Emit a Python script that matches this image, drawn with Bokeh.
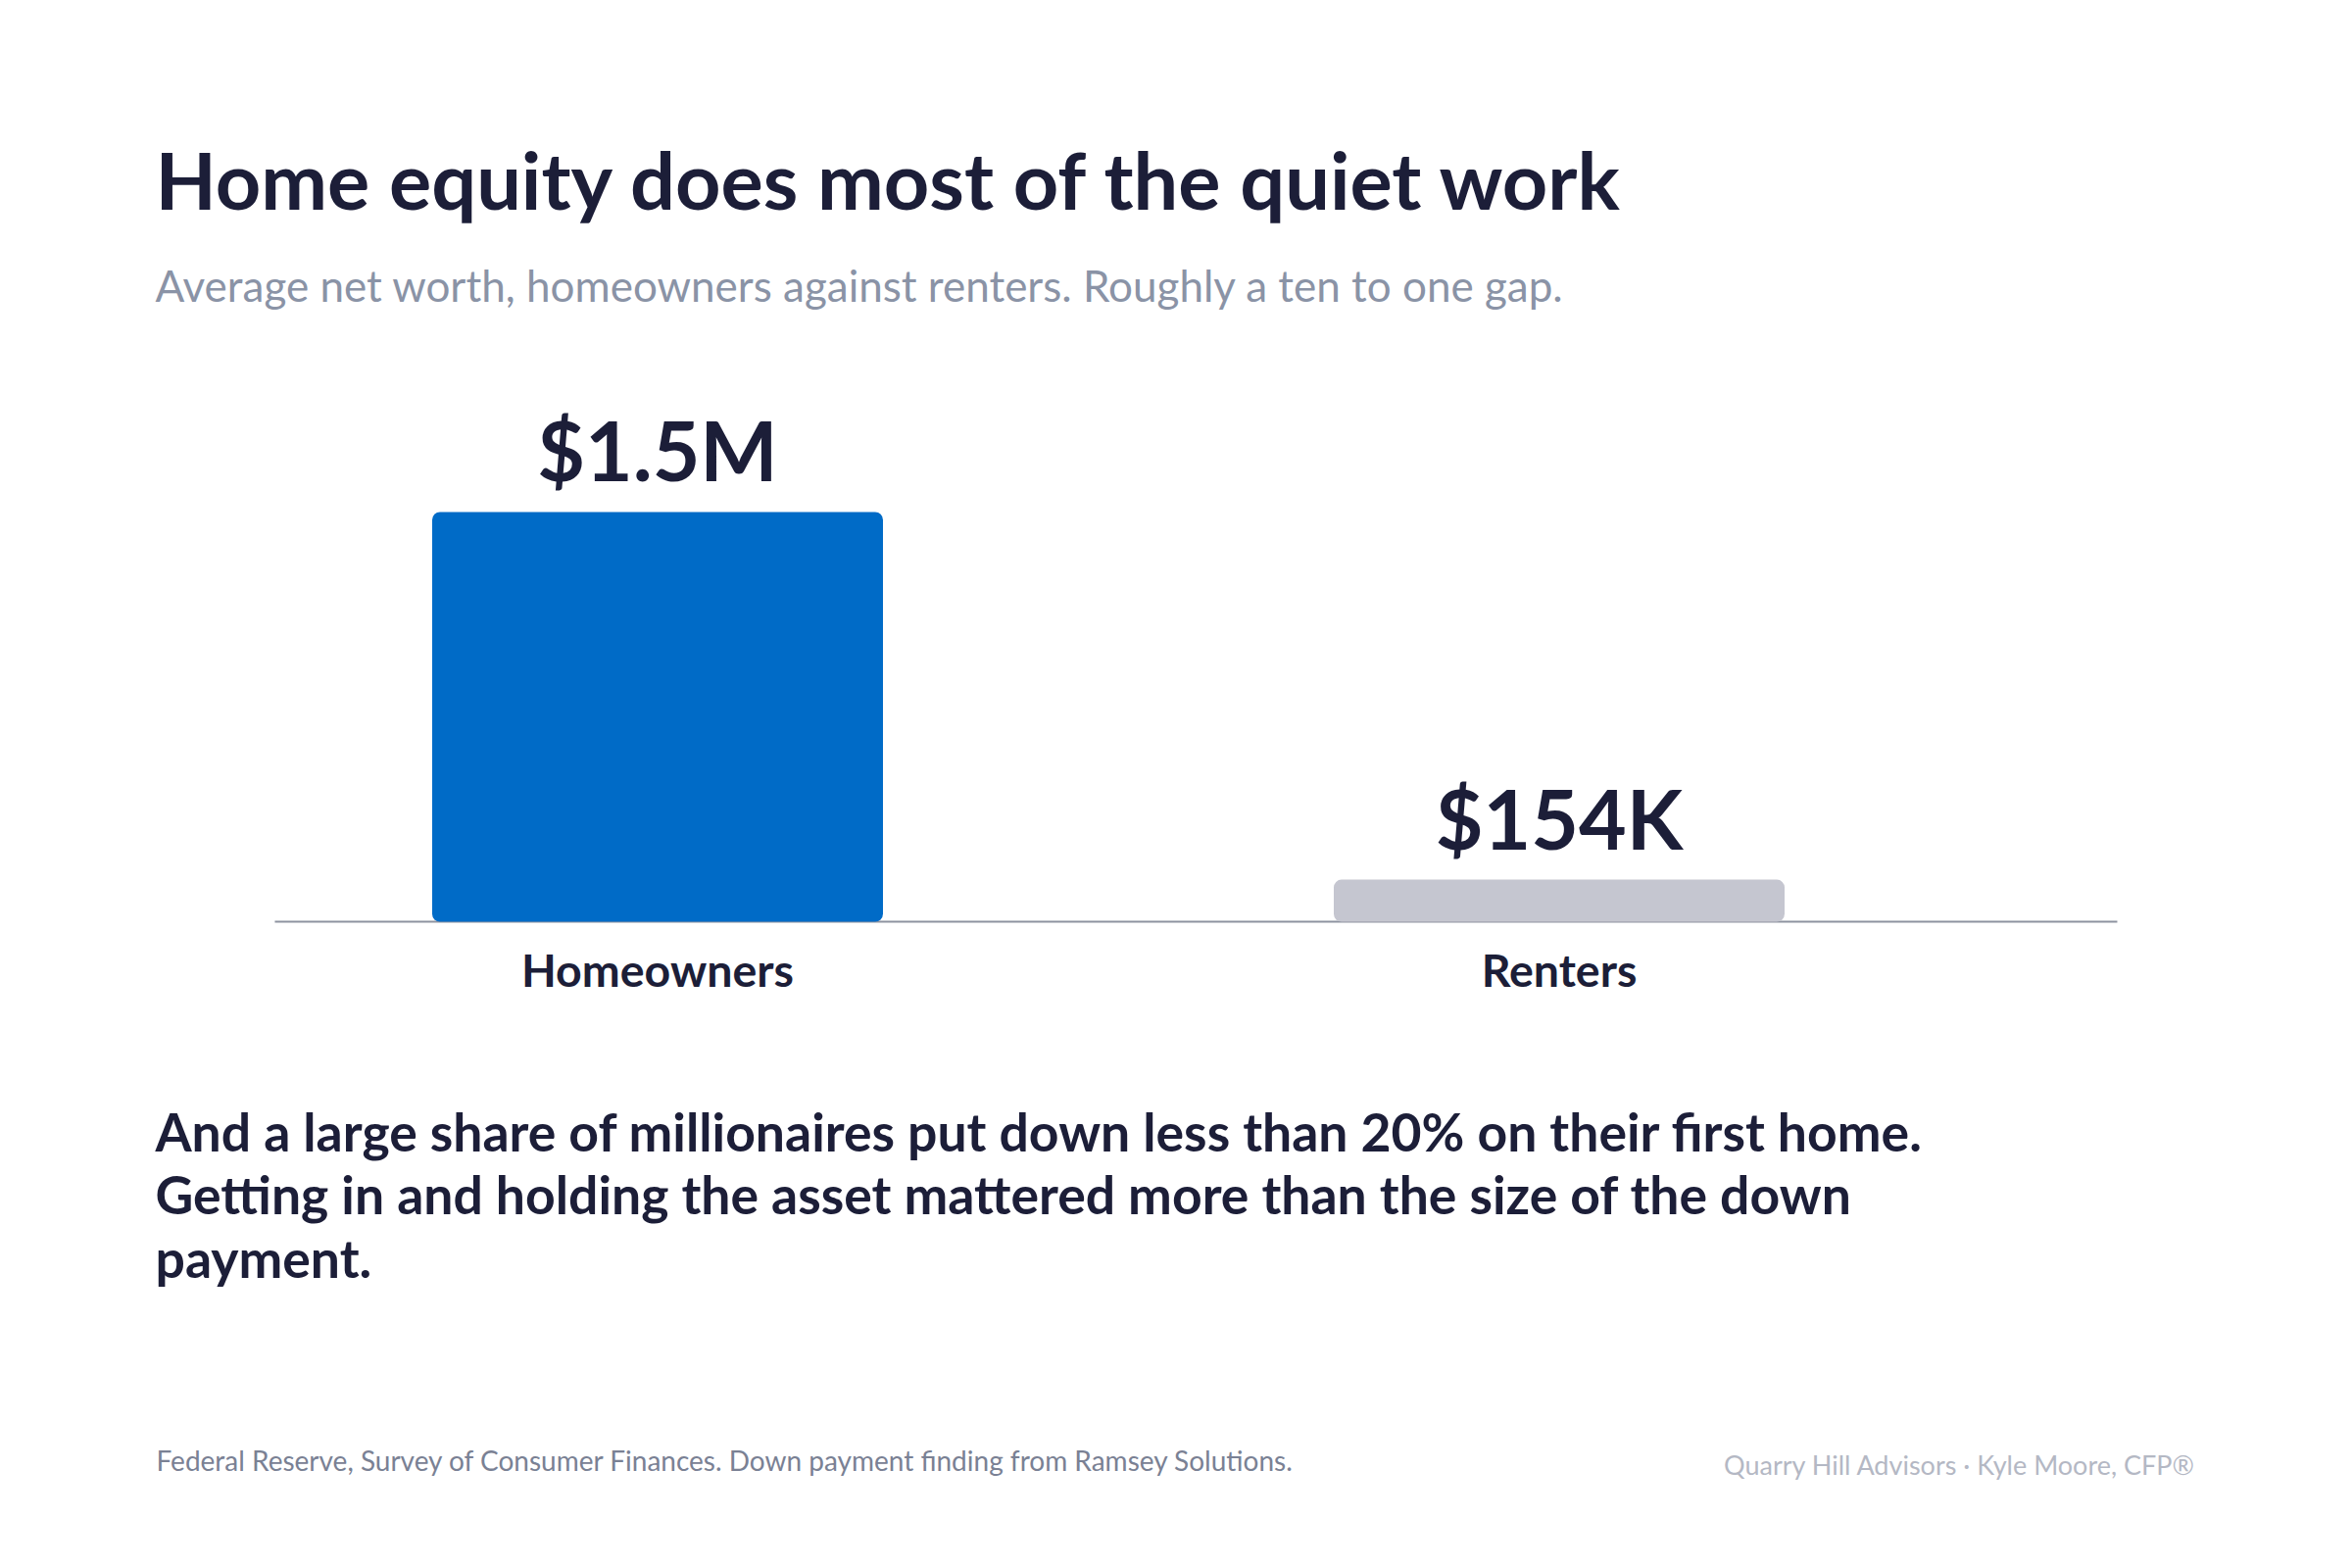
from bokeh.core.properties import value
from bokeh.embed import file_html
from bokeh.models import ColumnDataSource, Label, LabelSet, Range1d
from bokeh.plotting import figure
from bokeh.resources import INLINE

# data
categories = ["Homeowners", "Renters"]
net_worth = [1_500_000, 154_000]
value_labels = ["$1.5M", "$154K"]
bar_colors = ["#006bc7", "#c5c6d0"]

title_text = "Home equity does most of the quiet work"
subtitle_text = "Average net worth, homeowners against renters. Roughly a ten to one gap."
body_lines = [
    "And a large share of millionaires put down less than 20% on their first home.",
    "Getting in and holding the asset mattered more than the size of the down",
    "payment.",
]
source_text = "Federal Reserve, Survey of Consumer Finances. Down payment finding from Ramsey Solutions."
credit_text = "Quarry Hill Advisors \u00b7 Kyle Moore, CFP\u00ae"

FONT = "Lato"
INK = "#1c1e38"
W, H = 2384, 1584

positions = list(range(len(categories)))
src = ColumnDataSource(dict(x=positions, y=net_worth, label=value_labels,
                            cat=categories, zero=[0] * len(categories), color=bar_colors))

# the frame is the whole page; the ranges put the bars where the chart sits
p = figure(
    width=W,
    height=H,
    x_range=Range1d(-0.7288, 1.8625),
    y_range=Range1d(-2.311e6, 3.3732e6),
    x_axis_type=None,
    y_axis_type=None,
    toolbar_location=None,
    output_backend="svg",
    min_border=0,
)
p.outline_line_color = None
p.grid.grid_line_color = None
p.background_fill_color = "white"
p.border_fill_color = "white"

# baseline
p.segment(x0=[positions[0] - 0.4245], x1=[positions[-1] + 0.619], y0=[0], y1=[0],
          line_color="#8e93a0", line_width=2)

p.vbar(x="x", top="y", width=0.5, bottom=0, color="color",
       line_color=None, border_radius=8, source=src)

p.add_layout(LabelSet(x="x", y="y", text="label", source=src, text_align="center",
                      text_baseline="alphabetic", y_offset=31, text_color=INK,
                      text_font=value(FONT), text_font_style="bold", text_font_size="84px"))
p.add_layout(LabelSet(x="x", y="zero", text="cat", source=src, text_align="center",
                      text_baseline="alphabetic", y_offset=-66, text_color=INK,
                      text_font=value(FONT), text_font_style="bold", text_font_size="46.5px"))


def add_label(text, x, y_top, size, color, style="normal", align="left"):
    # x and y_top: pixel position from the top-left of the page
    p.add_layout(Label(x=x, y=H - y_top, x_units="screen", y_units="screen", text=text,
                       text_font=FONT, text_font_size=f"{size}px", text_font_style=style,
                       text_color=color, text_align=align, text_baseline="alphabetic"))


add_label(title_text, 158, 182, 81, INK, "bold")
add_label(subtitle_text, 158, 290, 44, "#8a93a6")
for i, line in enumerate(body_lines):
    add_label(line, 158, 1153 + 64.5 * i, 53.5, INK, "bold")
add_label(source_text, 159, 1489, 28, "#7a8194")
add_label(credit_text, 2240, 1494, 27, "#b4b8c4", align="right")

open("out.html", "w").write(file_html(p, INLINE))
